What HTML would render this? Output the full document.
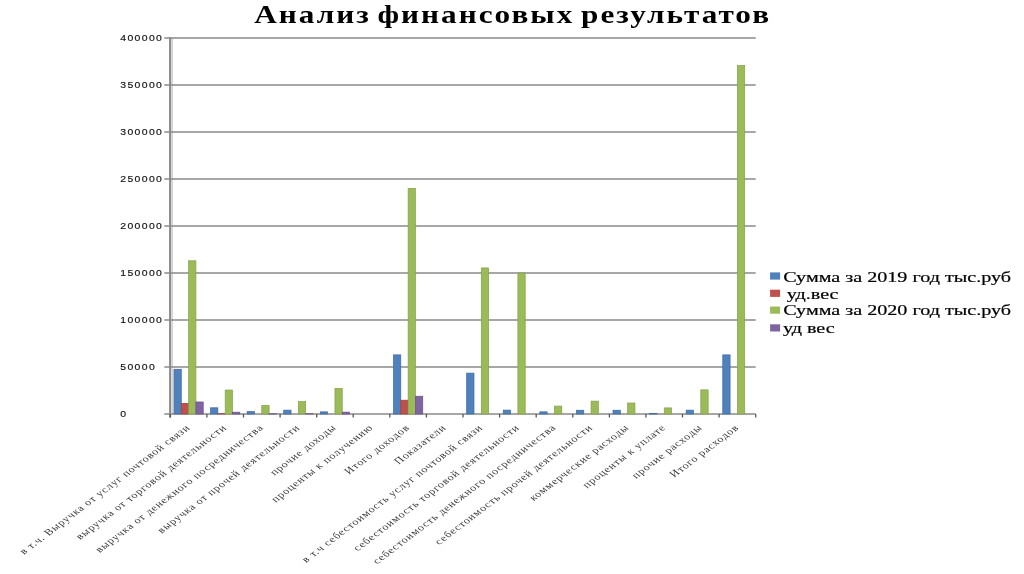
<!DOCTYPE html><html><head><meta charset="utf-8"><style>html,body{margin:0;padding:0;background:#fff;width:1024px;height:574px;overflow:hidden}svg{display:block;will-change:transform}</style></head><body>
<svg width="1024" height="574" viewBox="0 0 1024 574">
<rect x="0" y="0" width="1024" height="574" fill="#fff"/>
<line x1="172.2" y1="38.0" x2="172.2" y2="414.0" stroke="#d4d4d4" stroke-width="1.6"/>
<line x1="170.1" y1="37.3" x2="170.1" y2="417.5" stroke="#8c8c8c" stroke-width="2.1"/>
<line x1="164.3" y1="414.0" x2="755.7" y2="414.0" stroke="#8a8a8a" stroke-width="1.5"/>
<line x1="164.3" y1="367.0" x2="755.7" y2="367.0" stroke="#8a8a8a" stroke-width="1.5"/>
<line x1="164.3" y1="320.0" x2="755.7" y2="320.0" stroke="#8a8a8a" stroke-width="1.5"/>
<line x1="164.3" y1="273.0" x2="755.7" y2="273.0" stroke="#8a8a8a" stroke-width="1.5"/>
<line x1="164.3" y1="226.0" x2="755.7" y2="226.0" stroke="#8a8a8a" stroke-width="1.5"/>
<line x1="164.3" y1="179.0" x2="755.7" y2="179.0" stroke="#8a8a8a" stroke-width="1.5"/>
<line x1="164.3" y1="132.0" x2="755.7" y2="132.0" stroke="#8a8a8a" stroke-width="1.5"/>
<line x1="164.3" y1="85.0" x2="755.7" y2="85.0" stroke="#8a8a8a" stroke-width="1.5"/>
<line x1="164.3" y1="38.0" x2="755.7" y2="38.0" stroke="#8a8a8a" stroke-width="1.5"/>
<line x1="170.3" y1="414.0" x2="170.3" y2="417.5" stroke="#555" stroke-width="1.3"/>
<line x1="206.9" y1="414.0" x2="206.9" y2="417.5" stroke="#555" stroke-width="1.3"/>
<line x1="243.5" y1="414.0" x2="243.5" y2="417.5" stroke="#555" stroke-width="1.3"/>
<line x1="280.1" y1="414.0" x2="280.1" y2="417.5" stroke="#555" stroke-width="1.3"/>
<line x1="316.7" y1="414.0" x2="316.7" y2="417.5" stroke="#555" stroke-width="1.3"/>
<line x1="353.2" y1="414.0" x2="353.2" y2="417.5" stroke="#555" stroke-width="1.3"/>
<line x1="389.8" y1="414.0" x2="389.8" y2="417.5" stroke="#555" stroke-width="1.3"/>
<line x1="426.4" y1="414.0" x2="426.4" y2="417.5" stroke="#555" stroke-width="1.3"/>
<line x1="463.0" y1="414.0" x2="463.0" y2="417.5" stroke="#555" stroke-width="1.3"/>
<line x1="499.6" y1="414.0" x2="499.6" y2="417.5" stroke="#555" stroke-width="1.3"/>
<line x1="536.2" y1="414.0" x2="536.2" y2="417.5" stroke="#555" stroke-width="1.3"/>
<line x1="572.8" y1="414.0" x2="572.8" y2="417.5" stroke="#555" stroke-width="1.3"/>
<line x1="609.4" y1="414.0" x2="609.4" y2="417.5" stroke="#555" stroke-width="1.3"/>
<line x1="645.9" y1="414.0" x2="645.9" y2="417.5" stroke="#555" stroke-width="1.3"/>
<line x1="682.5" y1="414.0" x2="682.5" y2="417.5" stroke="#555" stroke-width="1.3"/>
<line x1="719.1" y1="414.0" x2="719.1" y2="417.5" stroke="#555" stroke-width="1.3"/>
<line x1="755.7" y1="414.0" x2="755.7" y2="417.5" stroke="#555" stroke-width="1.3"/>
<rect x="173.96" y="369.26" width="7.32" height="44.74" fill="#4F81BD" stroke="#3f6a9e" stroke-width="0.7"/>
<rect x="181.28" y="403.38" width="7.32" height="10.62" fill="#C0504D" stroke="#a03f3c" stroke-width="0.7"/>
<rect x="188.59" y="260.78" width="7.32" height="153.22" fill="#9BBB59" stroke="#84a04a" stroke-width="0.7"/>
<rect x="195.91" y="401.97" width="7.32" height="12.03" fill="#8064A2" stroke="#6a5288" stroke-width="0.7"/>
<rect x="210.55" y="407.80" width="7.32" height="6.20" fill="#4F81BD" stroke="#3f6a9e" stroke-width="0.7"/>
<rect x="217.86" y="413.72" width="7.32" height="0.28" fill="#C0504D" stroke="#a03f3c" stroke-width="0.7"/>
<rect x="225.18" y="390.03" width="7.32" height="23.97" fill="#9BBB59" stroke="#84a04a" stroke-width="0.7"/>
<rect x="232.50" y="412.21" width="7.32" height="1.79" fill="#8064A2" stroke="#6a5288" stroke-width="0.7"/>
<rect x="247.13" y="411.56" width="7.32" height="2.44" fill="#4F81BD" stroke="#3f6a9e" stroke-width="0.7"/>
<rect x="261.77" y="405.31" width="7.32" height="8.70" fill="#9BBB59" stroke="#84a04a" stroke-width="0.7"/>
<rect x="269.09" y="413.72" width="7.32" height="0.28" fill="#8064A2" stroke="#6a5288" stroke-width="0.7"/>
<rect x="283.72" y="410.15" width="7.32" height="3.85" fill="#4F81BD" stroke="#3f6a9e" stroke-width="0.7"/>
<rect x="298.36" y="401.59" width="7.32" height="12.41" fill="#9BBB59" stroke="#84a04a" stroke-width="0.7"/>
<rect x="305.67" y="413.72" width="7.32" height="0.28" fill="#8064A2" stroke="#6a5288" stroke-width="0.7"/>
<rect x="320.31" y="411.84" width="7.32" height="2.16" fill="#4F81BD" stroke="#3f6a9e" stroke-width="0.7"/>
<rect x="334.94" y="388.43" width="7.32" height="25.57" fill="#9BBB59" stroke="#84a04a" stroke-width="0.7"/>
<rect x="342.26" y="412.12" width="7.32" height="1.88" fill="#8064A2" stroke="#6a5288" stroke-width="0.7"/>
<rect x="393.48" y="354.87" width="7.32" height="59.13" fill="#4F81BD" stroke="#3f6a9e" stroke-width="0.7"/>
<rect x="400.80" y="400.18" width="7.32" height="13.82" fill="#C0504D" stroke="#a03f3c" stroke-width="0.7"/>
<rect x="408.12" y="188.40" width="7.32" height="225.60" fill="#9BBB59" stroke="#84a04a" stroke-width="0.7"/>
<rect x="415.44" y="396.23" width="7.32" height="17.77" fill="#8064A2" stroke="#6a5288" stroke-width="0.7"/>
<rect x="466.66" y="373.11" width="7.32" height="40.89" fill="#4F81BD" stroke="#3f6a9e" stroke-width="0.7"/>
<rect x="481.29" y="267.92" width="7.32" height="146.08" fill="#9BBB59" stroke="#84a04a" stroke-width="0.7"/>
<rect x="503.25" y="410.10" width="7.32" height="3.90" fill="#4F81BD" stroke="#3f6a9e" stroke-width="0.7"/>
<rect x="517.88" y="273.00" width="7.32" height="141.00" fill="#9BBB59" stroke="#84a04a" stroke-width="0.7"/>
<rect x="539.83" y="411.84" width="7.32" height="2.16" fill="#4F81BD" stroke="#3f6a9e" stroke-width="0.7"/>
<rect x="554.47" y="406.10" width="7.32" height="7.90" fill="#9BBB59" stroke="#84a04a" stroke-width="0.7"/>
<rect x="576.42" y="410.24" width="7.32" height="3.76" fill="#4F81BD" stroke="#3f6a9e" stroke-width="0.7"/>
<rect x="591.06" y="401.12" width="7.32" height="12.88" fill="#9BBB59" stroke="#84a04a" stroke-width="0.7"/>
<rect x="613.01" y="410.24" width="7.32" height="3.76" fill="#4F81BD" stroke="#3f6a9e" stroke-width="0.7"/>
<rect x="627.64" y="403.00" width="7.32" height="11.00" fill="#9BBB59" stroke="#84a04a" stroke-width="0.7"/>
<rect x="649.60" y="413.44" width="7.32" height="0.56" fill="#4F81BD" stroke="#3f6a9e" stroke-width="0.7"/>
<rect x="664.23" y="407.89" width="7.32" height="6.11" fill="#9BBB59" stroke="#84a04a" stroke-width="0.7"/>
<rect x="686.18" y="410.15" width="7.32" height="3.85" fill="#4F81BD" stroke="#3f6a9e" stroke-width="0.7"/>
<rect x="700.82" y="389.84" width="7.32" height="24.16" fill="#9BBB59" stroke="#84a04a" stroke-width="0.7"/>
<rect x="722.77" y="354.87" width="7.32" height="59.13" fill="#4F81BD" stroke="#3f6a9e" stroke-width="0.7"/>
<rect x="737.41" y="65.54" width="7.32" height="348.46" fill="#9BBB59" stroke="#84a04a" stroke-width="0.7"/>
<text transform="translate(120.2,417.0) scale(1.1,1)" letter-spacing="1.25" font-family="Liberation Sans" font-size="9.5" fill="#111" stroke="#111" stroke-width="0.15">0</text>
<text transform="translate(120.2,370.0) scale(1.1,1)" letter-spacing="1.25" font-family="Liberation Sans" font-size="9.5" fill="#111" stroke="#111" stroke-width="0.15">50000</text>
<text transform="translate(120.2,323.0) scale(1.1,1)" letter-spacing="1.25" font-family="Liberation Sans" font-size="9.5" fill="#111" stroke="#111" stroke-width="0.15">100000</text>
<text transform="translate(120.2,276.0) scale(1.1,1)" letter-spacing="1.25" font-family="Liberation Sans" font-size="9.5" fill="#111" stroke="#111" stroke-width="0.15">150000</text>
<text transform="translate(120.2,229.0) scale(1.1,1)" letter-spacing="1.25" font-family="Liberation Sans" font-size="9.5" fill="#111" stroke="#111" stroke-width="0.15">200000</text>
<text transform="translate(120.2,182.0) scale(1.1,1)" letter-spacing="1.25" font-family="Liberation Sans" font-size="9.5" fill="#111" stroke="#111" stroke-width="0.15">250000</text>
<text transform="translate(120.2,135.0) scale(1.1,1)" letter-spacing="1.25" font-family="Liberation Sans" font-size="9.5" fill="#111" stroke="#111" stroke-width="0.15">300000</text>
<text transform="translate(120.2,88.0) scale(1.1,1)" letter-spacing="1.25" font-family="Liberation Sans" font-size="9.5" fill="#111" stroke="#111" stroke-width="0.15">350000</text>
<text transform="translate(120.2,41.0) scale(1.1,1)" letter-spacing="1.25" font-family="Liberation Sans" font-size="9.5" fill="#111" stroke="#111" stroke-width="0.15">400000</text>
<text transform="translate(190.9,428.2) scale(1.317,1) rotate(-45)" text-anchor="end" font-family="Liberation Serif" font-size="9.2" letter-spacing="0.7" fill="#383838">в т.ч. Выручка от услуг почтовой связи</text>
<text transform="translate(227.5,428.2) scale(1.317,1) rotate(-45)" text-anchor="end" font-family="Liberation Serif" font-size="9.2" letter-spacing="0.7" fill="#383838">выручка от торговой деятельности</text>
<text transform="translate(264.1,428.2) scale(1.317,1) rotate(-45)" text-anchor="end" font-family="Liberation Serif" font-size="9.2" letter-spacing="0.7" fill="#383838">выручка от денежного посредничества</text>
<text transform="translate(300.7,428.2) scale(1.317,1) rotate(-45)" text-anchor="end" font-family="Liberation Serif" font-size="9.2" letter-spacing="0.7" fill="#383838">выручка от прочей деятельности</text>
<text transform="translate(337.2,428.2) scale(1.317,1) rotate(-45)" text-anchor="end" font-family="Liberation Serif" font-size="9.2" letter-spacing="0.7" fill="#383838">прочие доходы</text>
<text transform="translate(373.8,428.2) scale(1.317,1) rotate(-45)" text-anchor="end" font-family="Liberation Serif" font-size="9.2" letter-spacing="0.7" fill="#383838">проценты к получению</text>
<text transform="translate(410.4,428.2) scale(1.317,1) rotate(-45)" text-anchor="end" font-family="Liberation Serif" font-size="9.2" letter-spacing="0.7" fill="#383838">Итого доходов</text>
<text transform="translate(447.0,428.2) scale(1.317,1) rotate(-45)" text-anchor="end" font-family="Liberation Serif" font-size="9.2" letter-spacing="0.7" fill="#383838">Показатели</text>
<text transform="translate(483.6,428.2) scale(1.317,1) rotate(-45)" text-anchor="end" font-family="Liberation Serif" font-size="9.2" letter-spacing="0.7" fill="#383838">в т.ч себестоимость услуг почтовой связи</text>
<text transform="translate(520.2,428.2) scale(1.317,1) rotate(-45)" text-anchor="end" font-family="Liberation Serif" font-size="9.2" letter-spacing="0.7" fill="#383838">себестоимость торговой деятельности</text>
<text transform="translate(556.8,428.2) scale(1.317,1) rotate(-45)" text-anchor="end" font-family="Liberation Serif" font-size="9.2" letter-spacing="0.7" fill="#383838">себестоимость денежного посредничества</text>
<text transform="translate(593.4,428.2) scale(1.317,1) rotate(-45)" text-anchor="end" font-family="Liberation Serif" font-size="9.2" letter-spacing="0.7" fill="#383838">себестоимость прочей деятельности</text>
<text transform="translate(629.9,428.2) scale(1.317,1) rotate(-45)" text-anchor="end" font-family="Liberation Serif" font-size="9.2" letter-spacing="0.7" fill="#383838">коммерческие расходы</text>
<text transform="translate(666.5,428.2) scale(1.317,1) rotate(-45)" text-anchor="end" font-family="Liberation Serif" font-size="9.2" letter-spacing="0.7" fill="#383838">проценты к уплате</text>
<text transform="translate(703.1,428.2) scale(1.317,1) rotate(-45)" text-anchor="end" font-family="Liberation Serif" font-size="9.2" letter-spacing="0.7" fill="#383838">прочие расходы</text>
<text transform="translate(739.7,428.2) scale(1.317,1) rotate(-45)" text-anchor="end" font-family="Liberation Serif" font-size="9.2" letter-spacing="0.7" fill="#383838">Итого расходов</text>
<text transform="translate(254.2,22.5) scale(1.25,1)" letter-spacing="1.6" word-spacing="-2.4" font-family="Liberation Serif" font-weight="bold" font-size="25" fill="#000">Анализ финансовых результатов</text>
<rect x="770.1" y="272.4" width="10" height="7.2" fill="#4F81BD"/>
<text transform="translate(783.2,282.0) scale(1.325,1)" font-family="Liberation Serif" font-size="15.2" fill="#000" stroke="#000" stroke-width="0.2">Сумма за 2019 год тыс.руб</text>
<rect x="770.1" y="289.7" width="10" height="7.2" fill="#C0504D"/>
<text transform="translate(786.7,298.8) scale(1.325,1)" font-family="Liberation Serif" font-size="15.2" fill="#000" stroke="#000" stroke-width="0.2">уд.вес</text>
<rect x="770.1" y="306.5" width="10" height="7.2" fill="#9BBB59"/>
<text transform="translate(783.2,315.2) scale(1.325,1)" font-family="Liberation Serif" font-size="15.2" fill="#000" stroke="#000" stroke-width="0.2">Сумма за 2020 год тыс.руб</text>
<rect x="770.1" y="324.3" width="10" height="7.2" fill="#8064A2"/>
<text transform="translate(782.9,333.2) scale(1.325,1)" font-family="Liberation Serif" font-size="15.2" fill="#000" stroke="#000" stroke-width="0.2">уд вес</text>
</svg></body></html>
